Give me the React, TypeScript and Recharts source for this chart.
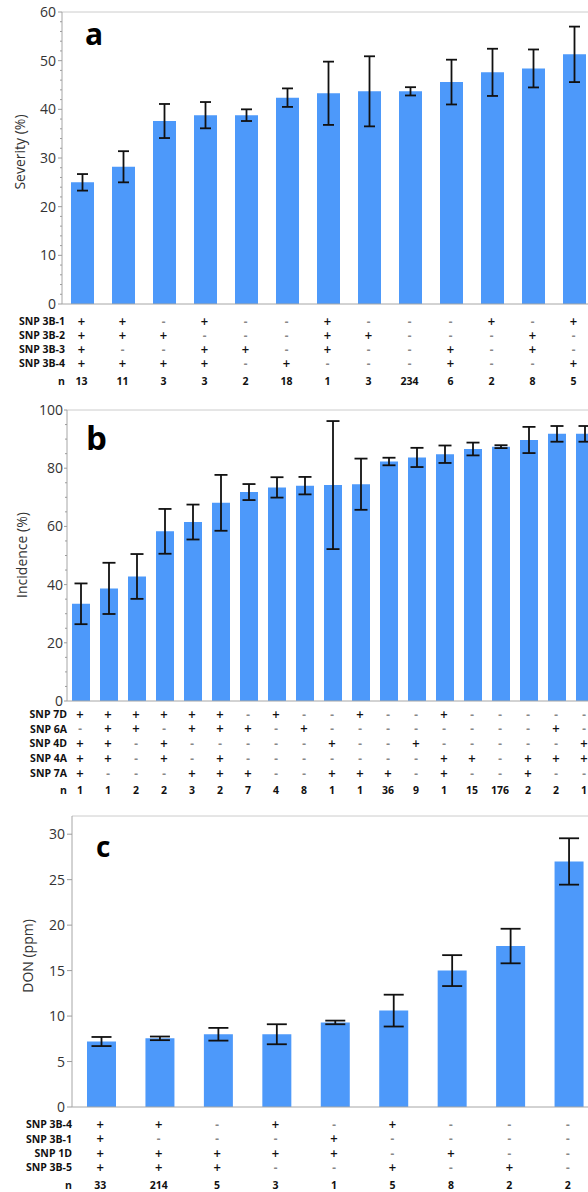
import React from "react";
import { BarChart, Bar, XAxis, YAxis, ErrorBar, ReferenceLine } from "recharts";

const FONT = "'Open Sans', 'Noto Sans', sans-serif";
const SIGN_FONT = "'DejaVu Sans', Verdana, sans-serif";
const BAR_FILL = "#4d99fa";

// panel a – severity
const sevMean = [25.0, 28.2, 37.6, 38.8, 38.8, 42.4, 43.3, 43.7, 43.7, 45.6, 47.6, 48.4, 51.3];
const sevErr = [1.7, 3.2, 3.5, 2.7, 1.2, 1.9, 6.5, 7.2, 0.85, 4.6, 4.85, 3.9, 5.7];
const sevRowNames = ["SNP 3B-1", "SNP 3B-2", "SNP 3B-3", "SNP 3B-4"];
const sevRows = ["++-+--+---+-+", "+++---++---+-", "+--++-+--+-+-", "++++-+---+--+"];
const sevN = [13, 11, 3, 3, 2, 18, 1, 3, 234, 6, 2, 8, 5];
const sevTicks = [0, 10, 20, 30, 40, 50, 60];

// panel b – incidence
const incMean = [33.4, 38.7, 42.8, 58.3, 61.5, 68.1, 71.8, 73.4, 74.0, 74.2, 74.5, 82.3, 83.7, 84.8, 86.6, 87.4, 89.7, 91.8, 91.8];
const incErr = [7.0, 8.8, 7.7, 7.7, 6.0, 9.6, 2.75, 3.5, 3.0, 22.0, 8.8, 1.3, 3.3, 3.0, 2.2, 0.5, 4.5, 2.7, 2.7];
const incRowNames = ["SNP 7D", "SNP 6A", "SNP 4D", "SNP 4A", "SNP 7A"];
const incRows = [
  "++++++-+--+--+-----",
  "-++-+++-+--------+-",
  "++-+-----+--+-----+",
  "++-+-+-------++-+++",
  "+---+++--+++-+--+--",
];
const incN = [1, 1, 2, 2, 3, 2, 7, 4, 8, 1, 1, 36, 9, 1, 15, 176, 2, 2, 1];
const incTicks = [0, 20, 40, 60, 80, 100];

// panel c – DON
const donMean = [7.2, 7.55, 8.0, 8.0, 9.3, 10.6, 15.0, 17.7, 27.0];
const donErr = [0.5, 0.2, 0.7, 1.1, 0.2, 1.75, 1.7, 1.9, 2.55];
const donRowNames = ["SNP 3B-4", "SNP 3B-1", "SNP 1D", "SNP 3B-5"];
const donRows = ["++-+-+---", "+---+----", "+++++-+--", "+++--+-+-"];
const donN = [33, 214, 5, 3, 1, 5, 8, 2, 2];
const donTicks = [0, 5, 10, 15, 20, 25, 30];

const withMinor = (major: number[], step: number) => {
  const out: number[] = [];
  const max = major[major.length - 1];
  for (let v = 0; v <= max + 1e-9; v += step) out.push(Math.round(v * 100) / 100);
  return out;
};

const panels = [
  {
    key: "a", top: 0, width: 595, height: 392, axisX: 62, xAxisHeight: 88,
    mean: sevMean, err: sevErr, rowNames: sevRowNames, rows: sevRows, n: sevN,
    domain: [0, 60], major: sevTicks, minorStep: 2, barSize: 23, cap: 11,
    tickLen: 4, labelGap: 6, labelRight: 65, rowStart: 17, rowPitch: 14, nY: 77,
    title: "Severity (%)", titleX: 20, titleY: 152,
    letter: "a", letterX: 85, letterY: 45, letterSize: 30,
  },
  {
    key: "b", top: 398, width: 599, height: 400, axisX: 67, xAxisHeight: 97,
    mean: incMean, err: incErr, rowNames: incRowNames, rows: incRows, n: incN,
    domain: [0, 100], major: incTicks, minorStep: 5, barSize: 18, cap: 13,
    tickLen: 3, labelGap: 4, labelRight: 67, rowStart: 13, rowPitch: 14.8, nY: 89,
    title: "Incidence (%)", titleX: 21.5, titleY: 157,
    letter: "b", letterX: 86, letterY: 52, letterSize: 33,
  },
  {
    key: "c", top: 804, width: 598, height: 388, axisX: 72, xAxisHeight: 85,
    mean: donMean, err: donErr, rowNames: donRowNames, rows: donRows, n: donN,
    domain: [0, 32], major: donTicks, minorStep: 5, barSize: 29, cap: 20,
    tickLen: 5, labelGap: 7, labelRight: 72, rowStart: 17.5, rowPitch: 14.3, nY: 78.5,
    title: "DON (ppm)", titleX: 28, titleY: 152,
    letter: "c", letterX: 96, letterY: 53, letterSize: 28,
  },
];

type Cfg = (typeof panels)[number];

const YTick = ({ y, payload, cfg }: any) => {
  const v = payload.value;
  const isMajor = cfg.major.includes(v);
  const len = isMajor ? cfg.tickLen : 2;
  return (
    <g>
      <line x1={cfg.axisX - len} x2={cfg.axisX} y1={y} y2={y} stroke="#9c9c9c" strokeWidth={1} />
      {isMajor && (
        <text x={cfg.axisX - cfg.labelGap} y={y} dy="0.36em" textAnchor="end"
          fontFamily={FONT} fontSize={14} fill="#333">
          {v}
        </text>
      )}
    </g>
  );
};

const TableTick = ({ x, y, index, cfg }: any) => {
  const cx = x - 1;
  const style = { fontFamily: FONT, fontSize: 10.5, fontWeight: 700 };
  const signStyle = { fontFamily: SIGN_FONT, fontSize: 10, fontWeight: 700 };
  return (
    <g>
      {index === 0 && cfg.rowNames.map((name: string, r: number) => (
        <text key={name} x={cfg.labelRight} y={y + cfg.rowStart + r * cfg.rowPitch} dy="0.36em"
          textAnchor="end" fill="#111" style={style}>{name}</text>
      ))}
      {index === 0 && (
        <text x={cfg.labelRight} y={y + cfg.nY} dy="0.36em" textAnchor="end" fill="#111" style={style}>n</text>
      )}
      {cfg.rows.map((row: string, r: number) => {
        const sign = row[index];
        return (
          <text key={r} x={cx} y={y + cfg.rowStart + r * cfg.rowPitch} dy="0.36em" textAnchor="middle"
            fill={sign === "+" ? "#111" : "#888"} style={signStyle}>{sign}</text>
        );
      })}
      <text x={cx} y={y + cfg.nY} dy="0.36em" textAnchor="middle" fill="#111" style={style}>
        {cfg.n[index]}
      </text>
    </g>
  );
};

const PanelText = ({ cfg }: any) => (
  <g>
    <text x={cfg.titleX} y={cfg.titleY} textAnchor="middle" dy="0.36em"
      transform={`rotate(-90 ${cfg.titleX} ${cfg.titleY})`}
      fontFamily={FONT} fontSize={14} fill="#333">{cfg.title}</text>
    <text x={cfg.letterX} y={cfg.letterY} fontFamily={FONT} fontWeight={700}
      fontSize={cfg.letterSize} fill="#000">{cfg.letter}</text>
  </g>
);

function Panel({ cfg }: { cfg: Cfg }) {
  const data = cfg.mean.map((m, i) => ({ k: String(i), mean: m, err: cfg.err[i] }));
  return (
    <div style={{ position: "absolute", left: 0, top: cfg.top }}>
      <BarChart width={cfg.width} height={cfg.height} data={data}
        margin={{ top: 12, right: 0, left: 0, bottom: 0 }}>
        <XAxis dataKey="k" height={cfg.xAxisHeight} interval={0} tickLine={false}
          tickSize={0} tickMargin={0} axisLine={{ stroke: "#a6a6a6" }}
          tick={(p: any) => <TableTick {...p} cfg={cfg} />} />
        <YAxis width={cfg.axisX} domain={cfg.domain} ticks={withMinor(cfg.major, cfg.minorStep)}
          interval={0} tickLine={false} axisLine={{ stroke: "#a6a6a6" }}
          tick={(p: any) => <YTick {...p} cfg={cfg} />}
          label={<PanelText cfg={cfg} />} />
        <ReferenceLine y={cfg.domain[1]} stroke="#cccccc" />
        <Bar dataKey="mean" fill={BAR_FILL} barSize={cfg.barSize} isAnimationActive={false}>
          <ErrorBar dataKey="err" width={cfg.cap / 2} stroke="#111" strokeWidth={1.8}
            direction="y" isAnimationActive={false} />
        </Bar>
      </BarChart>
    </div>
  );
}

export default function App() {
  return (
    <div style={{ position: "absolute", left: 0, top: 0, width: 588, height: 1192, overflow: "hidden", background: "#fff" }}>
      {panels.map((p) => <Panel key={p.key} cfg={p} />)}
    </div>
  );
}
